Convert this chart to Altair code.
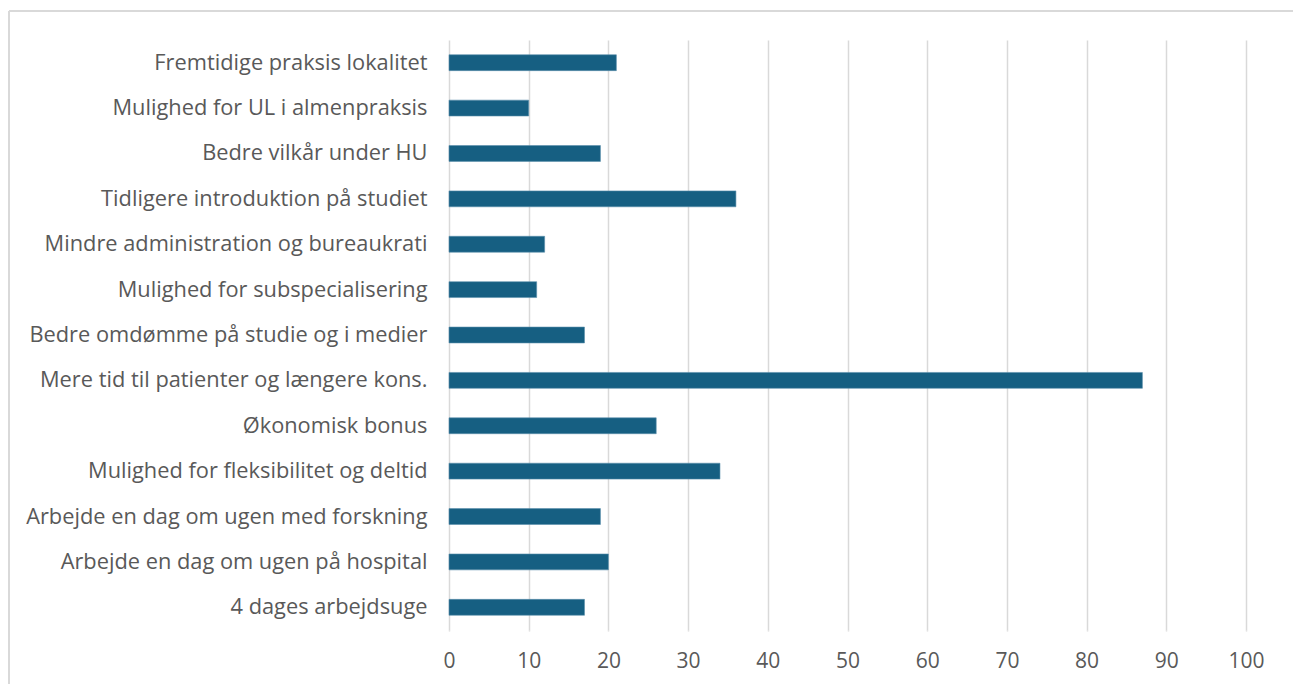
import altair as alt
import pandas as pd

categories = [
    "Fremtidige praksis lokalitet",
    "Mulighed for UL i almenpraksis",
    "Bedre vilkår under HU",
    "Tidligere introduktion på studiet",
    "Mindre administration og bureaukrati",
    "Mulighed for subspecialisering",
    "Bedre omdømme på studie og i medier",
    "Mere tid til patienter og længere kons.",
    "Økonomisk bonus",
    "Mulighed for fleksibilitet og deltid",
    "Arbejde en dag om ugen med forskning",
    "Arbejde en dag om ugen på hospital",
    "4 dages arbejdsuge",
]
values = [21, 10, 19, 36, 12, 11, 17, 87, 26, 34, 19, 20, 17]
x_ticks = [0, 10, 20, 30, 40, 50, 60, 70, 80, 90, 100]

df = pd.DataFrame({"cat": categories, "val": values})

bars = alt.Chart(df).mark_bar(color="#165f82", stroke="#5a8fab", strokeWidth=0.6).encode(
    x=alt.X("val:Q", scale=alt.Scale(domain=[0, 100], nice=False),
            axis=alt.Axis(values=x_ticks, title=None, domain=False, ticks=True,
                          tickColor="#d9d9d9", tickWidth=1.5, tickSize=1,
                          grid=True, gridColor="#d9d9d9", gridWidth=1.5,
                          labelFont="Open Sans", labelFontSize=21, labelFlush=False,
                          labelColor="#595959", labelPadding=19)),
    y=alt.Y("cat:N", sort=categories,
            scale=alt.Scale(paddingInner=0.65, paddingOuter=0.325),
            axis=alt.Axis(title=None, domain=False, ticks=False, grid=False,
                          labelFont="Open Sans", labelFontSize=21.8,
                          labelColor="#595959", labelPadding=22, labelLimit=500)),
)

frame = alt.Chart(df).mark_rule(color="#d9d9d9", strokeWidth=1.5).encode(
    x=alt.value(-440), x2=alt.value(900), y=alt.value(-29)
)
frame2 = alt.Chart(df).mark_rule(color="#d9d9d9", strokeWidth=1.5).encode(
    x=alt.value(-440), y=alt.value(-29), y2=alt.value(700)
)

chart = alt.layer(frame, frame2, bars).properties(
    width=797, height=590,
    autosize=alt.AutoSizeParams(type="none"),
    padding={"left": 449, "top": 40, "right": 47, "bottom": 54},
    background="white",
).configure_view(stroke=None)

chart.save("out.html", embed_options={"renderer": "svg", "actions": False})
